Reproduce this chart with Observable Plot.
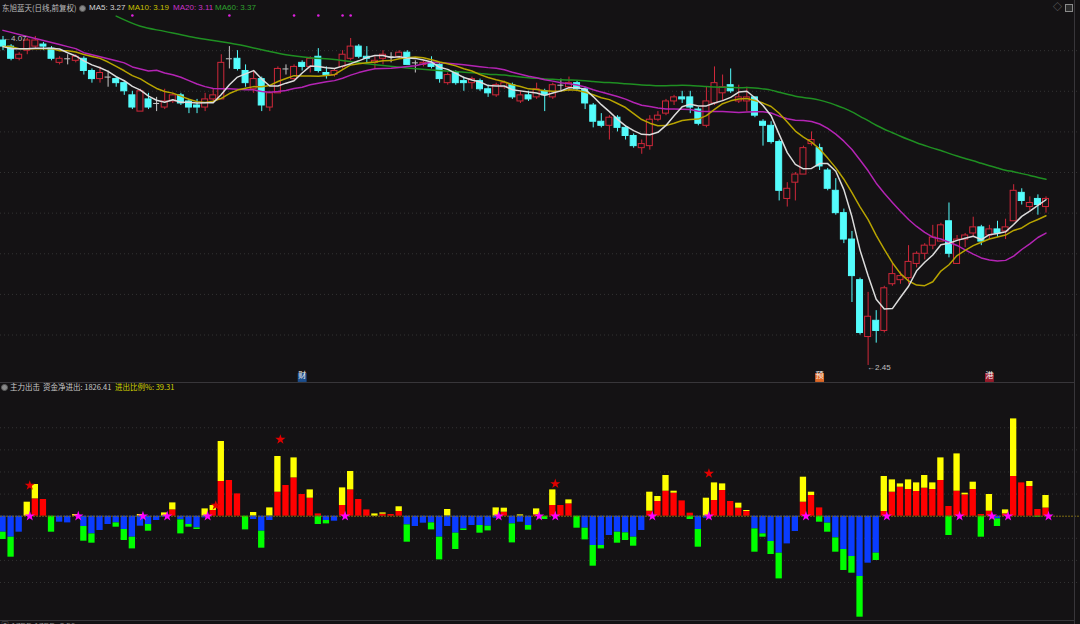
<!DOCTYPE html>
<html><head><meta charset="utf-8">
<script src="https://cdn.jsdelivr.net/npm/d3@7"></script>
<script src="https://cdn.jsdelivr.net/npm/@observablehq/plot@0.6"></script>
<style>
html,body{margin:0;padding:0;background:#141214;}
#wrap{position:relative;width:1080px;height:624px;overflow:hidden;background:#141214;font-family:"Liberation Sans","Noto Sans CJK SC",sans-serif;}
#topPanel,#botPanel{position:absolute;left:0;}
#topPanel{top:0;} #botPanel{top:382px;}
.t{position:absolute;white-space:nowrap;font-size:8px;line-height:10px;}
.cjk{font-family:"Noto Sans CJK SC",sans-serif;font-size:7.5px;}
.hl{position:absolute;left:0;width:1074px;height:1px;background:#38363a;}
.vl{position:absolute;left:1074px;top:0;width:1px;height:624px;background:#38363a;}
.ic{position:absolute;width:5px;height:5px;border-radius:50%;background:#8a8a8a;border:1px solid #5a5a5a;}
</style></head>
<body><div id="wrap">
<div id="topPanel"></div>
<div id="botPanel"></div>
<div class="hl" style="top:382px"></div>
<div class="hl" style="top:620px"></div>
<div class="vl"></div>
<div class="t cjk" style="left:2px;top:3px;color:#bdbdbd">东旭蓝天(日线,前复权)</div>
<div class="ic" style="left:79px;top:5px"></div>
<div class="t" style="left:89px;top:3px;color:#d6d6d6">MA5: 3.27</div>
<div class="t" style="left:128px;top:3px;color:#c9c000">MA10: 3.19</div>
<div class="t" style="left:173px;top:3px;color:#c832c8">MA20: 3.11</div>
<div class="t" style="left:215px;top:3px;color:#2ea02e">MA60: 3.37</div>
<div class="t" style="left:1053px;top:2px;color:#7a7a7a;font-size:9px">◇</div>
<div style="position:absolute;left:1065px;top:4px;width:6px;height:6px;border:1px solid #8a8a8a;background:#2a2a2a"></div>
<div class="ic" style="left:1px;top:384px"></div>
<div class="t cjk" style="left:10px;top:382px;color:#c8c8c8">主力出击</div>
<div class="t cjk" style="left:43px;top:382px;color:#c8c8c8">资金净进出: 1826.41</div>
<div class="t cjk" style="left:115px;top:382px;color:#d2d200">进出比例%: 39.31</div>
<div class="t" style="left:1px;top:621px;color:#8a8a8a">▣ 1ZDD 1ZDD: 2.56</div>
</div>
<script>
// ---------- price data (daily candles) ----------
const opens  = [4.05,4.02,3.96,4.00,4.02,4.03,4.01,3.94,3.96,3.95, 3.96,3.90,3.86,3.87,3.86,3.84,3.78,3.70,3.76,3.74, 3.72,3.75,3.78,3.75,3.73,3.72,3.76,3.76,3.96,3.96, 3.90,3.81,3.86,3.72,3.79,3.91,3.86,3.94,3.92,3.97, 3.89,3.88,3.92,3.96,4.02,3.97,3.94,3.96,3.97,3.97, 3.99,3.94,3.93,3.94,3.93,3.84,3.89,3.85,3.84,3.85, 3.81,3.78,3.82,3.83,3.75,3.78,3.77,3.80,3.77,3.83, 3.82,3.84,3.81,3.73,3.65,3.63,3.67,3.62,3.58,3.52, 3.53,3.66,3.69,3.75,3.77,3.77,3.71,3.63,3.74,3.79, 3.83,3.75,3.75,3.77,3.65,3.63,3.55,3.27,3.35,3.39, 3.54,3.52,3.41,3.31,3.20,3.07,2.87,2.59,2.67,2.62, 2.85,2.87,2.88,2.95,3.00,3.04,3.06,3.16,2.95,3.07, 3.10,3.13,3.09,3.12,3.11,3.16,3.30,3.23,3.27,3.23];
const highs  = [4.07,4.03,3.99,4.06,4.07,4.04,4.02,3.97,3.98,3.98, 3.97,3.91,3.92,3.90,3.87,3.85,3.80,3.81,3.79,3.77, 3.81,3.79,3.79,3.76,3.76,3.79,3.81,3.98,4.02,4.00, 3.93,3.90,3.87,3.80,3.92,3.93,3.93,3.95,3.97,4.01, 3.92,3.91,4.00,4.06,4.03,4.02,3.97,4.00,3.99,4.00, 4.00,3.95,3.95,3.97,3.94,3.89,3.90,3.87,3.87,3.86, 3.83,3.84,3.85,3.84,3.80,3.80,3.84,3.81,3.84,3.86, 3.87,3.85,3.82,3.74,3.69,3.68,3.68,3.63,3.59,3.56, 3.68,3.70,3.76,3.78,3.80,3.80,3.72,3.82,3.92,3.88, 3.91,3.83,3.82,3.77,3.66,3.65,3.56,3.35,3.40,3.53, 3.60,3.54,3.42,3.37,3.22,3.11,2.88,2.81,2.72,2.84, 2.95,2.91,3.04,3.01,3.05,3.14,3.15,3.25,3.09,3.10, 3.18,3.14,3.14,3.16,3.17,3.34,3.32,3.28,3.29,3.28];
const lows   = [4.00,3.95,3.95,3.98,4.01,4.00,3.95,3.93,3.93,3.94, 3.88,3.84,3.84,3.82,3.82,3.78,3.71,3.70,3.71,3.70, 3.71,3.74,3.73,3.69,3.69,3.70,3.74,3.76,3.91,3.90, 3.82,3.79,3.70,3.70,3.79,3.88,3.85,3.90,3.89,3.89, 3.86,3.87,3.91,3.95,3.96,3.94,3.91,3.93,3.94,3.96, 3.93,3.89,3.92,3.91,3.84,3.83,3.83,3.80,3.81,3.80, 3.77,3.77,3.81,3.76,3.74,3.75,3.76,3.70,3.76,3.80, 3.80,3.80,3.71,3.62,3.62,3.56,3.60,3.56,3.52,3.49, 3.51,3.65,3.68,3.73,3.74,3.69,3.63,3.62,3.73,3.75, 3.79,3.74,3.70,3.67,3.53,3.54,3.26,3.23,3.26,3.39, 3.53,3.41,3.31,3.19,3.05,2.76,2.60,2.45,2.56,2.61, 2.84,2.85,2.85,2.93,2.97,3.02,3.06,2.98,2.95,3.03, 3.08,3.04,3.07,3.08,3.07,3.16,3.24,3.21,3.19,3.20];
const closes = [4.02,3.96,3.98,4.05,4.05,4.02,3.96,3.96,3.96,3.97, 3.90,3.86,3.89,3.87,3.84,3.80,3.72,3.80,3.72,3.74, 3.75,3.78,3.74,3.72,3.72,3.76,3.78,3.94,3.96,3.91, 3.84,3.86,3.73,3.79,3.91,3.91,3.92,3.92,3.96,3.90, 3.88,3.90,3.98,4.02,3.97,3.96,3.95,3.98,3.97,3.99, 3.93,3.94,3.94,3.92,3.86,3.88,3.84,3.84,3.86,3.81, 3.79,3.83,3.84,3.77,3.78,3.76,3.81,3.78,3.83,3.83, 3.84,3.81,3.74,3.65,3.63,3.67,3.62,3.58,3.53,3.54, 3.66,3.68,3.75,3.77,3.76,3.72,3.64,3.75,3.84,3.82, 3.80,3.77,3.77,3.68,3.63,3.55,3.31,3.32,3.39,3.52, 3.56,3.43,3.32,3.20,3.07,2.89,2.61,2.69,2.62,2.83, 2.90,2.89,2.96,3.00,3.04,3.08,3.14,3.00,3.07,3.09, 3.13,3.06,3.12,3.10,3.13,3.31,3.26,3.25,3.24,3.27];
// moving-average values before enough history exists
const ma5Head  = [4.02,4.01,4.01,4.01];
const ma10Head = [4.02,4.02,4.01,4.01,4.01,4.01,4.01,4.00,4.00];
const ma20Head = [4.10,4.09,4.08,4.07,4.06,4.05,4.04,4.03,4.02,4.01,3.99,3.98,3.97,3.96,3.95,3.94,3.92,3.91,3.90];
const ma60HeadDays = [14,17,20,23,26,29,32,35,38,41,44,47,50,53,56];
const ma60HeadVals = [4.17,4.12,4.095,4.07,4.05,4.03,4.005,3.98,3.965,3.957,3.94,3.927,3.915,3.905,3.897];
const signalDays = [16,28,36,39,42,43];
const priceGrid = [4.0,3.8,3.6,3.4,3.2,3.0,2.8,2.6];
const markDays  = [37,101,122];
const markChars = ["财","预","港"];
const markFills = ["#1d4f8f","#e06a28","#9a1b2b"];

// ---------- fund-flow indicator (主力出击) ----------
const redIn    = [0,0,0,0,1526,1473,0,0,0,0, 0,0,0,0,0,0,0,0,0,0, 0,556,0,0,0,0,503,3061,3149,1967, 0,0,0,0,2117,2708,3378,1914,1588,203, 0,0,944,2320,1473,556,0,176,150,415, 0,0,0,0,0,0,0,0,0,0, 0,0,353,0,0,0,115,0,944,944, 1085,0,0,0,0,0,0,0,0,0, 441,1297,2205,2029,1349,265,0,0,1385,2267, 1297,706,415,0,0,0,0,0,0,1235, 1826,732,0,0,0,0,0,0,0,415, 2117,2558,2355,2179,2470,2355,3149,856,2205,1879, 2355,150,441,0,203,3501,2937,2620,591,718];
const yellowIn = [0,0,0,1235,1270,0,0,0,0,150, 0,0,0,0,0,0,0,150,0,0, 291,617,0,0,0,644,441,3528,0,0, 0,326,0,732,3149,0,1764,0,732,0, 0,0,1552,1623,0,0,203,115,0,415, 0,0,0,0,0,591,0,0,0,0, 0,732,353,0,115,0,529,0,1376,0, 353,0,0,0,0,0,0,0,0,0, 1676,441,1385,176,0,0,0,1588,1552,582, 0,441,88,0,0,0,0,0,0,2205, 291,0,0,0,0,0,0,0,0,3087, 1085,291,847,759,1120,582,1993,0,3290,150, 644,0,1473,0,353,5080,0,441,0,1108];
const blueOut  = [1411,1852,1411,0,0,0,0,529,591,0, 908,1561,1261,732,591,1173,1852,882,732,379, 88,0,326,732,1032,150,0,0,0,0, 0,291,1323,379,0,0,0,0,0,0, 379,441,0,0,0,0,0,0,0,0, 767,908,617,591,1852,908,1499,1120,820,820, 882,176,0,679,529,820,0,0,0,0, 0,0,1058,2584,2584,1702,1411,1473,1852,1261, 0,0,0,0,0,0,1173,176,0,0, 0,0,0,1120,1561,2231,3263,2443,1349,0, 0,0,617,1914,2937,3554,5318,4145,3263,0, 0,0,0,0,0,0,0,0,0,0, 0,0,0,238,0,0,0,0,0,0];
const greenOut = [644,1764,0,0,0,0,1411,0,0,0, 1297,820,0,0,379,970,1032,0,591,0, 0,0,1235,238,141,0,0,0,0,0, 1208,0,1499,0,0,0,0,0,0,732, 300,0,0,0,0,0,0,0,0,0, 1526,0,0,617,2002,0,1438,141,0,679, 415,0,0,1676,0,415,0,291,0,0, 0,1058,1032,1826,300,0,970,670,794,0, 0,0,0,0,0,291,1561,0,0,0, 0,0,0,2055,291,1147,2267,0,0,0, 0,529,794,1261,1852,1473,3590,0,644,0, 0,0,0,0,0,0,0,1702,0,0, 0,1852,0,670,0,0,0,0,88,0];
const zeroStarDays = [3,9,17,20,25,42,61,66,68,80,87,99,109,118,122,124,129];
const redStarDays  = [3,26,34,68,87];
const redStarVals  = [2708,944,6765,2858,3766];
const flowGrid = [-5850,-3900,-1950,1950,3900,5850,7800];

(function () {
const days = d3.range(closes.length);
const candles = days.map(i => ({i, o: opens[i], h: highs[i], l: lows[i], c: closes[i]}));
function rolling(n, head) {
  return days.map(i => ({i, v: i < n - 1 ? head[i] : d3.mean(closes.slice(i - n + 1, i + 1))}));
}
const ma5 = rolling(5, ma5Head), ma10 = rolling(10, ma10Head), ma20 = rolling(20, ma20Head);
const ma60 = ma60HeadDays.map((i, k) => ({i, v: ma60HeadVals[k]}))
  .concat(days.filter(i => i >= 59).map(i => ({i, v: d3.mean(closes.slice(i - 59, i + 1))})));

const BG = "#141214", RED = "#d0283a", CYAN = "#54fcfc", DOJI = "#c8c8c8";
const col = d => d.c > d.o ? RED : d.c < d.o ? CYAN : DOJI;
const W = 0.37;
const xScale = {domain: [0, closes.length - 1], range: [2.5, 1045.5], axis: null};
const font = {background: "transparent", fontFamily: "'Liberation Sans','Noto Sans CJK SC',sans-serif", fontSize: "8px"};
const hiIdx = d3.maxIndex(highs), loIdx = d3.minIndex(lows);

const priceChart = Plot.plot({
  width: 1080, height: 382, marginTop: 0, marginRight: 0, marginBottom: 0, marginLeft: 0,
  style: font,
  x: xScale,
  y: {domain: [2.3662, 4.247], range: [382, 0], axis: null},
  color: {type: "identity"},
  marks: [
    Plot.ruleY(priceGrid, {stroke: "#333", strokeDasharray: "1,3"}),
    Plot.ruleX(candles, {x: "i", y1: "h", y2: d => Math.max(d.o, d.c), stroke: col}),
    Plot.ruleX(candles, {x: "i", y1: "l", y2: d => Math.min(d.o, d.c), stroke: col}),
    Plot.rect(candles.filter(d => d.c !== d.o), {x1: d => d.i - W, x2: d => d.i + W, y1: "o", y2: "c",
      fill: d => d.c > d.o ? BG : CYAN, stroke: col, strokeWidth: 1}),
    Plot.ruleY(candles.filter(d => d.c === d.o), {y: "c", x1: d => d.i - W, x2: d => d.i + W, stroke: DOJI}),
    Plot.line(ma60, {x: "i", y: "v", stroke: "#1f8f22", curve: "monotone-x"}),
    Plot.line(ma20, {x: "i", y: "v", stroke: "#b424b4"}),
    Plot.line(ma10, {x: "i", y: "v", stroke: "#b8a400"}),
    Plot.line(ma5, {x: "i", y: "v", stroke: "#dcdcdc"}),
    Plot.dot(signalDays, {x: d => d, frameAnchor: "top", dy: 15, r: 1.3, fill: "#e020e0"}),
    Plot.text([hiIdx], {x: d => d, y: d => highs[d], text: d => "←" + highs[d].toFixed(2), textAnchor: "start", dx: 0, dy: 2, fill: "#c0c0c0"}),
    Plot.text([loIdx], {x: d => d, y: d => lows[d], text: d => "←" + lows[d].toFixed(2), textAnchor: "start", dx: -1, dy: 2, fill: "#c0c0c0"}),
    Plot.dot(markDays, {x: d => d, frameAnchor: "bottom", dy: -5, symbol: "square", r: 5, fill: (d, k) => markFills[k]}),
    Plot.text(markDays, {x: d => d, frameAnchor: "bottom", dy: -5, text: (d, k) => markChars[k], fill: "#f0f0f0", fontFamily: "Noto Sans CJK SC", fontSize: 8})
  ]
});
document.getElementById("topPanel").appendChild(priceChart);

const flow = days.map(i => ({i, r: redIn[i], y: yellowIn[i], b: blueOut[i], g: greenOut[i]}));
const BW = 0.39;
const bx = {x1: d => d.i - BW, x2: d => d.i + BW};
const flowChart = Plot.plot({
  width: 1080, height: 242, marginTop: 0, marginRight: 0, marginBottom: 0, marginLeft: 0,
  style: font,
  x: xScale,
  y: {domain: [-9200, 11792], range: [238, 0], axis: null},
  marks: [
    Plot.ruleY(flowGrid, {stroke: "#333", strokeDasharray: "1,3"}),
    Plot.rect(flow.filter(d => d.r > 0), {...bx, y1: 0, y2: "r", fill: "#ff0000"}),
    Plot.rect(flow.filter(d => d.y > 0), {...bx, y1: "r", y2: d => d.r + d.y, fill: "#ffff00"}),
    Plot.rect(flow.filter(d => d.b > 0), {...bx, y1: 0, y2: d => -d.b, fill: "#0a3cff"}),
    Plot.rect(flow.filter(d => d.g > 0), {...bx, y1: d => -d.b, y2: d => -d.b - d.g, fill: "#00ff00"}),
    Plot.ruleY([0], {stroke: "#7d6c12", strokeDasharray: "2,1"}),
    Plot.dot(zeroStarDays, {x: d => d, y: 0, dx: 2.5, symbol: "star", r: 3.2, fill: "#ff00ff"}),
    Plot.dot(redStarDays, {x: d => d, y: (d, k) => redStarVals[k], dx: 2.5, symbol: "star", r: 3.2, fill: "#e00000"})
  ]
});
document.getElementById("botPanel").appendChild(flowChart);
})();
</script>
</body></html>
